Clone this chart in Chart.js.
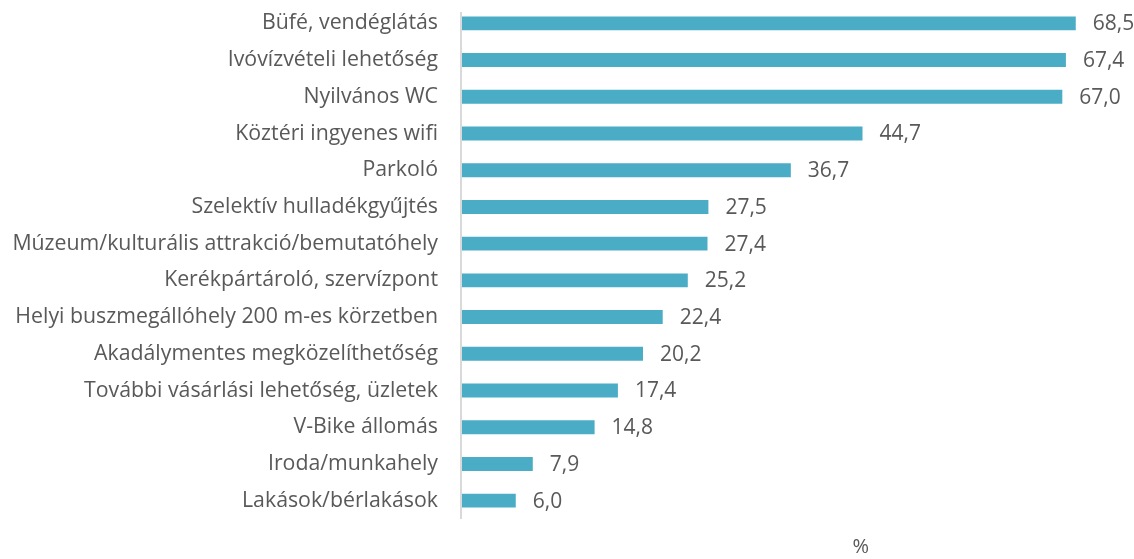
<!DOCTYPE html>
<html>
<head>
<meta charset="utf-8">
<script src="https://cdn.jsdelivr.net/npm/chart.js@4/dist/chart.umd.min.js"></script>
<style>
  html, body { margin: 0; padding: 0; background: #fff; }
  #wrap { width: 1134px; height: 559px; }
</style>
</head>
<body>
<div id="wrap"><canvas id="chart"></canvas></div>
<script>
// data
const categories = [
  'Büfé, vendéglátás',
  'Ivóvízvételi lehetőség',
  'Nyilvános WC',
  'Köztéri ingyenes wifi',
  'Parkoló',
  'Szelektív hulladékgyűjtés',
  'Múzeum/kulturális attrakció/bemutatóhely',
  'Kerékpártároló, szervízpont',
  'Helyi buszmegállóhely 200 m-es körzetben',
  'Akadálymentes megközelíthetőség',
  'További vásárlási lehetőség, üzletek',
  'V-Bike állomás',
  'Iroda/munkahely',
  'Lakások/bérlakások'
];
const values = [68.5, 67.4, 67.0, 44.7, 36.7, 27.5, 27.4, 25.2, 22.4, 20.2, 17.4, 14.8, 7.9, 6.0];
const unitLabel = '%';

const FONT = '"Open Sans", "Noto Sans", sans-serif';
const TEXT = '#595959';

// value labels next to bars
const valueLabels = {
  id: 'valueLabels',
  afterDatasetsDraw(chart) {
    const ctx = chart.ctx;
    const meta = chart.getDatasetMeta(0);
    ctx.save();
    ctx.font = '21px ' + FONT;
    ctx.fillStyle = TEXT;
    ctx.textBaseline = 'middle';
    meta.data.forEach((bar, i) => {
      ctx.fillText(values[i].toFixed(1).replace('.', ','), bar.x + 17, bar.y + 1);
    });
    ctx.restore();
  }
};

// "%" caption under the plot, plus the short axis line
const unitCaption = {
  id: 'unitCaption',
  afterDraw(chart) {
    const ctx = chart.ctx;
    const x = chart.scales.x;
    const area = chart.chartArea;
    ctx.save();
    ctx.strokeStyle = '#d9d9d9';
    ctx.lineWidth = 2;
    ctx.beginPath();
    ctx.moveTo(area.left - 1, area.top + 7);
    ctx.lineTo(area.left - 1, area.bottom);
    ctx.stroke();
    ctx.font = '20px ' + FONT;
    ctx.fillStyle = TEXT;
    ctx.textAlign = 'center';
    ctx.textBaseline = 'middle';
    ctx.fillText(unitLabel, x.getPixelForValue(44.5), 547);
    ctx.restore();
  }
};

new Chart(document.getElementById('chart'), {
  type: 'bar',
  data: {
    labels: categories,
    datasets: [{
      data: values,
      backgroundColor: '#4bacc6',
      borderWidth: 0,
      barPercentage: 0.76,
      categoryPercentage: 0.5
    }]
  },
  options: {
    indexAxis: 'y',
    responsive: true,
    maintainAspectRatio: false,
    animation: false,
    layout: { padding: { top: 5, bottom: 40, left: 0, right: 0 } },
    plugins: {
      legend: { display: false },
      tooltip: { enabled: false }
    },
    scales: {
      x: {
        display: false,
        min: 0,
        max: 75
      },
      y: {
        afterFit: s => { s.width = 462; s.paddingTop = 0; s.paddingBottom = 0; },
        grid: { display: false, drawTicks: false },
        border: { display: false },
        ticks: {
          padding: 24,
          color: TEXT,
          font: { family: FONT, size: 21.3 }
        }
      }
    }
  },
  plugins: [valueLabels, unitCaption]
});
</script>
</body>
</html>
